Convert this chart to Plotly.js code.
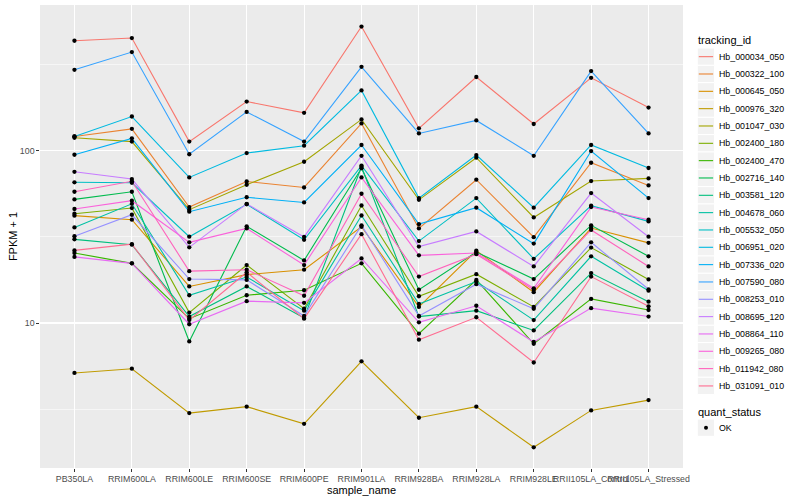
<!DOCTYPE html>
<html><head><meta charset="utf-8">
<script src="https://cdn.plot.ly/plotly-3.0.1.min.js"></script>
<style>html,body{margin:0;padding:0;background:#fff}#chart{width:800px;height:500px}</style>
</head><body><div id="chart"></div>
<script>
const samples = ["PB350LA","RRIM600LA","RRIM600LE","RRIM600SE","RRIM600PE","RRIM901LA","RRIM928BA","RRIM928LA","RRIM928LE","RRII105LA_Control","RRII105LA_Stressed"];

const trackingIds = ["Hb_000034_050","Hb_000322_100","Hb_000645_050","Hb_000976_320","Hb_001047_030","Hb_002400_180","Hb_002400_470","Hb_002716_140","Hb_003581_120","Hb_004678_060","Hb_005532_050","Hb_006951_020","Hb_007336_020","Hb_007590_080","Hb_008253_010","Hb_008695_120","Hb_008864_110","Hb_009265_080","Hb_011942_080","Hb_031091_010"];

const colors = ["#F8766D","#EA8331","#D89000","#C09B00","#A3A500","#7CAE00","#39B600","#00BB4E","#00BF7D","#00C1A3","#00BFC4","#00BAE0","#00B0F6","#35A2FF","#9590FF","#C77CFF","#E76BF3","#FA62DB","#FF62BC","#FF6C91"];

// FPKM + 1 per sample (in the order of `samples`)
const Hb_000034_050 = [435, 451, 113, 193, 166, 526, 135, 268, 143, 265, 178];
const Hb_000322_100 = [121, 134, 47.1, 66.3, 61.2, 144, 35.4, 67.9, 31.5, 85.2, 62.9];
const Hb_000645_050 = [42, 39.8, 16.3, 19.1, 20.4, 36.2, 12.4, 26.3, 15.1, 35.6, 29.2];
const Hb_000976_320 = [5.13, 5.43, 3.0, 3.27, 2.6, 5.99, 2.82, 3.27, 1.9, 3.11, 3.57];
const Hb_001047_030 = [119, 113, 45.5, 63.5, 86.3, 152, 51.9, 91.1, 41, 66.7, 69.1];
const Hb_002400_180 = [43.1, 46.5, 11.5, 21.7, 12.1, 48.1, 14.3, 19.2, 12.4, 27.4, 17.9];
const Hb_002400_470 = [25.5, 22.2, 10.6, 14.5, 15.5, 22.2, 8.67, 17.8, 7.58, 13.8, 11.9];
const Hb_002716_140 = [52.2, 57.8, 7.82, 36.4, 23.1, 79.1, 15.6, 25.8, 18, 36.9, 24.4];
const Hb_003581_120 = [30.6, 28.5, 10.9, 16.3, 10.7, 80.7, 10.9, 11.8, 9.06, 19.5, 13.3];
const Hb_004678_060 = [35.9, 49.2, 14.5, 18.5, 11.8, 42.1, 12.9, 17.4, 10.4, 24.4, 15.4];
const Hb_005532_050 = [65.6, 65.2, 31.7, 48.9, 30.4, 82, 29.9, 53.1, 23.6, 48, 38.9];
const Hb_006951_020 = [121, 158, 70, 97, 107, 224, 53.1, 94.4, 46.7, 108, 79.4];
const Hb_007336_020 = [94.8, 118, 44.3, 53.7, 50.1, 108, 37.5, 46.7, 28.9, 99.6, 53.1];
const Hb_007590_080 = [295, 374, 95.4, 168, 113, 307, 126, 150, 93.5, 290, 126];
const Hb_008253_010 = [31.9, 42.5, 18, 17.8, 11, 36.9, 11, 16.8, 12.1, 29.4, 15.7];
const Hb_008695_120 = [75.5, 68.5, 27.5, 49.2, 31.6, 93.5, 27.8, 34, 21.3, 56.8, 31.7];
const Hb_008864_110 = [24.2, 22.2, 9.84, 13.4, 13.1, 23.7, 10.1, 12.6, 7.76, 12.2, 10.9];
const Hb_009265_080 = [45.9, 51.3, 29.4, 35.4, 21.7, 70, 24.7, 25.5, 15.9, 47.1, 39.8];
const Hb_011942_080 = [57.8, 66.5, 20, 20.4, 14.4, 56.3, 18.6, 25.1, 15.6, 34.7, 21.3];
const Hb_031091_010 = [26.4, 28.7, 10.4, 19.7, 10.6, 32.8, 8.0, 10.8, 5.9, 18.6, 12.5];

const series = [Hb_000034_050,Hb_000322_100,Hb_000645_050,Hb_000976_320,Hb_001047_030,Hb_002400_180,Hb_002400_470,Hb_002716_140,Hb_003581_120,Hb_004678_060,Hb_005532_050,Hb_006951_020,Hb_007336_020,Hb_007590_080,Hb_008253_010,Hb_008695_120,Hb_008864_110,Hb_009265_080,Hb_011942_080,Hb_031091_010];

const yTickVals = [10, 100];
const yTickText = ["10", "100"];
const yMinorVals = [3.1623, 31.623, 316.23];
const quantLevels = ["OK"];

const traces = [];
series.forEach((vals, i) => {
  traces.push({type:"scatter", mode:"lines", x:samples, y:vals, name:trackingIds[i],
    line:{color:colors[i], width:1.1}, showlegend:false, hoverinfo:"skip"});
});
series.forEach((vals, i) => {
  traces.push({type:"scatter", mode:"markers", x:samples, y:vals, name:quantLevels[0],
    marker:{color:"#000000", size:4.3, symbol:"circle"}, showlegend:false, hoverinfo:"skip"});
});

// Legend (ggplot-style) built from the id/colour arrays
const L = 40, T = 5, W = 643, H = 463;
const px = x => (x - L) / W;
const py = y => (T + H - y) / H;
const shapes = [], annotations = [];
const keyX0 = 697.3, keyX1 = 714.6, keyTop = 48.0, keyH = 17.33;
annotations.push({xref:"paper", yref:"paper", x:px(696), y:py(40.5), text:"tracking_id",
  showarrow:false, xanchor:"left", yanchor:"middle", font:{size:11, color:"#000"}});
trackingIds.forEach((id, i) => {
  const top = keyTop + i * keyH, mid = top + keyH / 2;
  shapes.push({type:"rect", xref:"paper", yref:"paper", x0:px(keyX0), x1:px(keyX1), y0:py(top), y1:py(top + keyH),
    fillcolor:"#F2F2F2", line:{color:"#FFFFFF", width:1}, layer:"above"});
  shapes.push({type:"line", xref:"paper", yref:"paper", x0:px(keyX0 + 1.5), x1:px(keyX1 - 1.5), y0:py(mid), y1:py(mid),
    line:{color:colors[i], width:1.1}, layer:"above"});
  annotations.push({xref:"paper", yref:"paper", x:px(716.5), y:py(mid), text:id, showarrow:false,
    xanchor:"left", yanchor:"middle", font:{size:8.8, color:"#000"}});
});
annotations.push({xref:"paper", yref:"paper", x:px(696), y:py(412), text:"quant_status",
  showarrow:false, xanchor:"left", yanchor:"middle", font:{size:11, color:"#000"}});
quantLevels.forEach((lv, i) => {
  const top = 419 + i * keyH, mid = top + keyH / 2;
  shapes.push({type:"rect", xref:"paper", yref:"paper", x0:px(keyX0), x1:px(keyX1), y0:py(top), y1:py(top + keyH),
    fillcolor:"#F2F2F2", line:{color:"#FFFFFF", width:1}, layer:"above"});
  shapes.push({type:"circle", xref:"paper", yref:"paper", x0:px(704.0), x1:px(708.0), y0:py(mid + 2), y1:py(mid - 2),
    fillcolor:"#000", line:{color:"#000", width:0}, layer:"above"});
  annotations.push({xref:"paper", yref:"paper", x:px(716.5), y:py(mid), text:lv, showarrow:false,
    xanchor:"left", yanchor:"middle", font:{size:8.8, color:"#000"}});
});

const layout = {
  width:800, height:500,
  margin:{l:L, r:800 - L - W, t:T, b:500 - T - H, pad:0},
  paper_bgcolor:"#FFFFFF", plot_bgcolor:"#EBEBEB",
  font:{family:"Liberation Sans, Arial, sans-serif", color:"#000"},
  showlegend:false,
  xaxis:{type:"category", categoryorder:"array", categoryarray:samples, range:[-0.6, 10.6],
    tickmode:"array", tickvals:samples, ticktext:samples, tickangle:0,
    showgrid:true, gridcolor:"#FFFFFF", gridwidth:1.07, zeroline:false, showline:false,
    ticks:"outside", ticklen:2.7, tickwidth:1, tickcolor:"#333333",
    tickfont:{size:8.8, color:"#4D4D4D"}, automargin:false,
    title:{text:"sample_name", font:{size:11, color:"#000"}, standoff:1}},
  yaxis:{type:"log", range:[0.1585, 2.846], tickmode:"array", tickvals:yTickVals, ticktext:yTickText,
    showgrid:true, gridcolor:"#FFFFFF", gridwidth:1.07, zeroline:false, showline:false,
    ticks:"outside", ticklen:2.7, tickwidth:1, tickcolor:"#333333",
    tickfont:{size:8.8, color:"#4D4D4D"}, automargin:false,
    minor:{tickmode:"array", tickvals:yMinorVals, showgrid:true, gridcolor:"#FFFFFF", gridwidth:0.53, ticks:""},
    title:{text:"FPKM + 1", font:{size:11, color:"#000"}, standoff:0}},
  shapes:shapes, annotations:annotations
};

Plotly.newPlot("chart", traces, layout, {displayModeBar:false, staticPlot:true});
</script>
</body></html>
